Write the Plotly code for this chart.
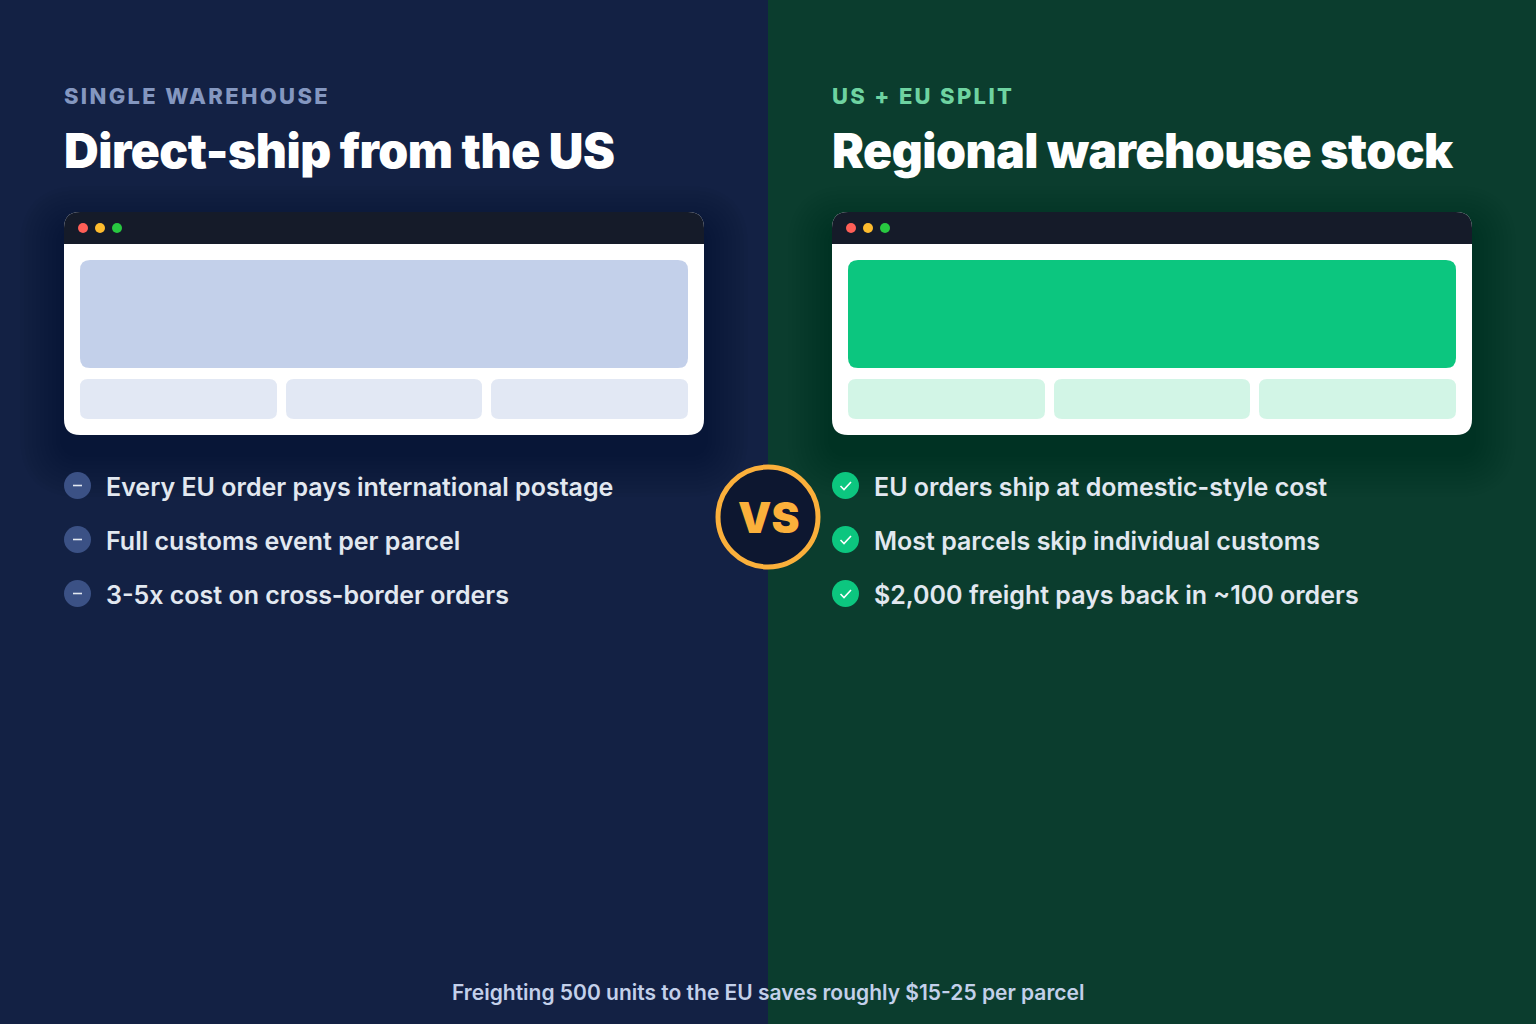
import plotly.graph_objects as go

W, H = 1536, 1024
MID = 768
LEFT_BG = "#132144"
RIGHT_BG = "#0b3d2e"

eyebrows = ["SINGLE WAREHOUSE", "US + EU SPLIT"]
titles = ["Direct-ship from the US", "Regional warehouse stock"]
left_points = ["Every EU order pays international postage",
               "Full customs event per parcel",
               "3-5x cost on cross-border orders"]
right_points = ["EU orders ship at domestic-style cost",
                "Most parcels skip individual customs",
                "$2,000 freight pays back in ~100 orders"]
footer = "Freighting 500 units to the EU saves roughly $15-25 per parcel"
PANEL_X = [64, 832]
EYEBROW_COLORS = ["#8497c0", "#6ed3a1"]
HERO_COLORS = ["#c3d0ea", "#0cc67f"]
TILE_COLORS = ["#e2e8f4", "#d2f5e6"]
BULLET_Y = [487, 541, 595]
DOT_COLORS = ["#ff5f57", "#febc2e", "#28c840"]
FONT = "Inter"


def rrect(x0, y0, x1, y1, r, tl=True, bl=True):
    # rounded rectangle as an svg path, corners can be squared off for the title bar
    rb = r if bl else 0
    rt = r if tl else 0
    return (f"M{x0+rt},{y0} L{x1-rt},{y0} Q{x1},{y0} {x1},{y0+rt} "
            f"L{x1},{y1-rb} Q{x1},{y1} {x1-rb},{y1} L{x0+rb},{y1} "
            f"Q{x0},{y1} {x0},{y1-rb} L{x0},{y0+rt} Q{x0},{y0} {x0+rt},{y0} Z")


shapes = []
notes = []


def box(x0, y0, x1, y1, color, r=0, opacity=1, bl=True):
    shapes.append(dict(type="path", path=rrect(x0, y0, x1, y1, r, bl=bl),
                       fillcolor=color, opacity=opacity, line_width=0, layer="below"))


def circle(cx, cy, r, color, line=None, lw=0):
    shapes.append(dict(type="circle", x0=cx-r, x1=cx+r, y0=cy-r, y1=cy+r, fillcolor=color,
                       line=dict(color=line, width=lw) if line else dict(width=0), layer="below"))


def stroke(path, color, lw):
    shapes.append(dict(type="path", path=path, line=dict(color=color, width=lw), layer="below"))


def label(x, y, text, size, color, weight=400, anchor="left"):
    notes.append(dict(x=x, y=y, text=text, showarrow=False, xanchor=anchor, yanchor="middle",
                      borderpad=0, borderwidth=0,
                      font=dict(family=FONT, size=size, color=color, weight=weight)))


box(0, 0, MID, H, LEFT_BG)
box(MID, 0, W, H, RIGHT_BG)

for i, px in enumerate(PANEL_X):
    # soft card shadow
    for spread in range(44, 0, -4):
        box(px-spread, 212-spread+18, px+640+spread, 435+spread+18, "#000000",
            r=16+spread, opacity=0.017)
    box(px, 212, px+640, 435, "#ffffff", r=16)
    box(px, 212, px+640, 244, "#151b29", r=16, bl=False)
    for j, c in enumerate(DOT_COLORS):
        circle(px+19+17*j, 228, 5, c)
    box(px+16, 260, px+624, 368, HERO_COLORS[i], r=10)
    for tx0, tx1 in [(16, 213), (222, 418), (427, 624)]:
        box(px+tx0, 379, px+tx1, 419, TILE_COLORS[i], r=8)
    label(px, 96, eyebrows[i], 22, EYEBROW_COLORS[i], 800)
    label(px, 150, titles[i], 48, "#ffffff", 900)

for y, text in zip(BULLET_Y, left_points):
    circle(77.5, y-1.5, 13.5, "#3b5185")
    stroke(f"M73,{y-1.5} L82,{y-1.5}", "#e2e8f0", 1.6)
    label(106, y, text, 25, "#e2e8f0", 600)

for y, text in zip(BULLET_Y, right_points):
    circle(845.5, y-1.5, 13.5, "#0cc67f")
    stroke(f"M840.5,{y-1} L844,{y+2.5} L851,{y-5}", "#ffffff", 1.6)
    label(874, y, text, 25, "#e2e8f0", 600)

circle(768, 517, 50, "#0d1730", line="#fbb03b", lw=5)
label(768, 517, "VS", 42, "#fbb03b", 900, anchor="center")
label(768, 992, footer, 21, "#c3d0ea", 600, anchor="center")

fig = go.Figure()
fig.update_layout(
    width=W, height=H, margin=dict(l=0, r=0, t=0, b=0),
    paper_bgcolor=LEFT_BG, plot_bgcolor=LEFT_BG, showlegend=False,
    xaxis=dict(range=[0, W], visible=False, fixedrange=True),
    yaxis=dict(range=[H, 0], visible=False, fixedrange=True),
    shapes=shapes, annotations=notes,
)

# plotly has no letter-spacing option, so it is set on the drawn text afterwards.
# the text is drawn centred in its box, so shift it back to keep the left edge
post = """
var sp = {'SINGLE WAREHOUSE':'2.33px','US + EU SPLIT':'2.33px',
          'Direct-ship from the US':'-0.5px','Regional warehouse stock':'-0.5px'};
document.querySelectorAll('.annotation-text').forEach(function(t){
  var s = sp[t.textContent];
  if (s) {
    var before = t.getBBox().x;
    t.style.letterSpacing = s;
    var after = t.getBBox().x;
    t.setAttribute('x', parseFloat(t.getAttribute('x')) + before - after);
  }
});
document.body.style.margin = '0';
"""
fig.write_html("out.html", post_script=post, config=dict(displayModeBar=False))
